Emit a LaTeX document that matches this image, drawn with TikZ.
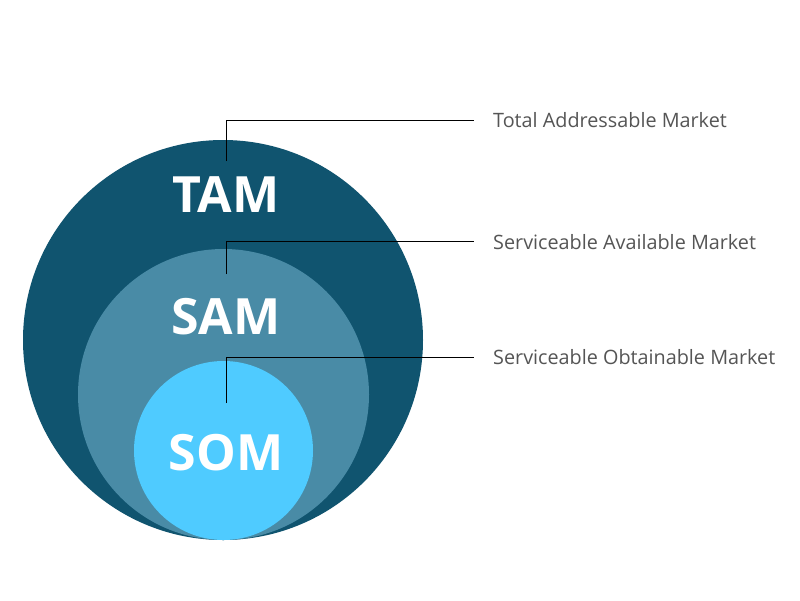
\documentclass[tikz,border=0pt]{standalone}
\usepackage{fontspec}
\setmainfont{Open Sans}
\definecolor{tamc}{RGB}{16,84,111}
\definecolor{samc}{RGB}{73,139,166}
\definecolor{somc}{RGB}{79,203,255}
\definecolor{labc}{RGB}{85,85,85}
\begin{document}
\begin{tikzpicture}[x=1pt,y=-1pt,
  ring/.style={circle,inner sep=0pt,draw=none},
  bigtxt/.style={text=white,font=\fontsize{50}{50}\selectfont\bfseries,inner sep=0pt},
  labtxt/.style={text=labc,font=\fontsize{19.8}{19.8}\selectfont,anchor=west,inner sep=0pt},
  leader/.style={draw=black,line width=0.9pt}]
\useasboundingbox (0,0) rectangle (800,600);
\fill[white] (0,0) rectangle (800,600);
\node[ring,fill=tamc,minimum size=400pt] (tam) at (223,340) {};
\node[ring,fill=samc,minimum size=291pt] (sam) at (223.5,394.5) {};
\node[ring,fill=somc,minimum size=179pt] (som) at (223.5,450.5) {};
\node[bigtxt] (tamt) at (226,195) {TAM};
\node[bigtxt] (samt) at (226,317) {SAM};
\node[bigtxt] (somt) at (226,453) {SOM};
\node[labtxt] (taml) at (493,120) {Total Addressable Market};
\node[labtxt] (saml) at (493,242) {Serviceable Available Market};
\node[labtxt] (soml) at (493,357) {Serviceable Obtainable Market};
\coordinate (a1) at (226,161);
\coordinate (a2) at (226,120);
\coordinate (a3) at (474,120);
\coordinate (b1) at (226,274);
\coordinate (b2) at (226,241.5);
\coordinate (b3) at (474,241.5);
\coordinate (c1) at (226,403);
\coordinate (c2) at (226,357.5);
\coordinate (c3) at (474,357.5);
\draw[leader] (a1) -- (a2) -- (a3);
\draw[leader] (b1) -- (b2) -- (b3);
\draw[leader] (c1) -- (c2) -- (c3);
\end{tikzpicture}
\end{document}
